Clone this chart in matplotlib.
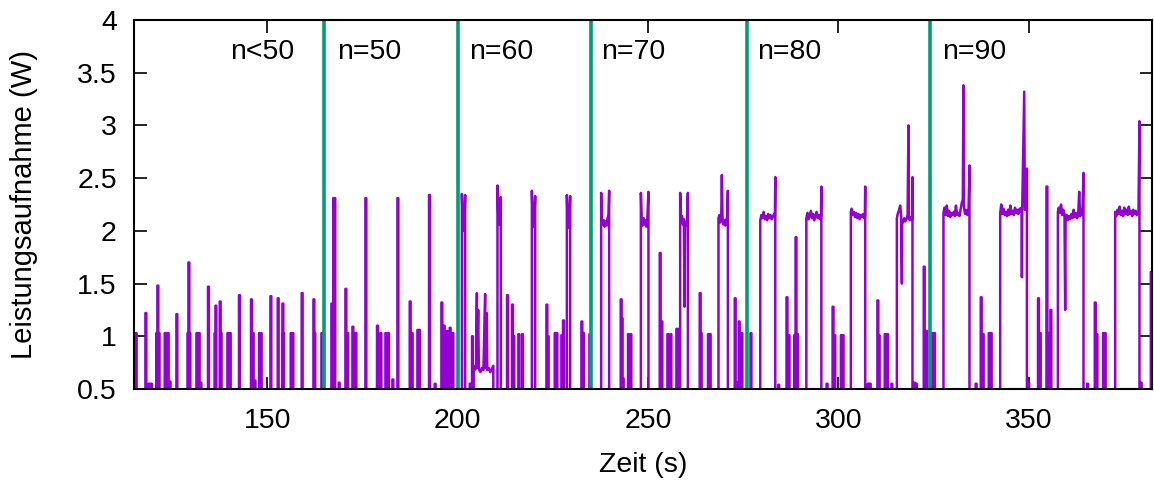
import matplotlib
matplotlib.use("Agg")
import matplotlib.pyplot as plt
from matplotlib.ticker import FuncFormatter

plt.rcParams['font.family'] = ['Liberation Sans', 'DejaVu Sans']

# Grundlinie (liegt knapp unter dem sichtbaren Bereich)
grundlinie = 0.47

# schmale Spitzen: Zeitpunkt (s) und Spitzenwert (W)
spitzen_t = [115.59, 118.14, 121.0, 121.29, 121.6, 123.21, 124.0, 126.28, 129.2, 129.44, 129.7,
             131.54, 132.14, 134.58, 136.3, 136.53, 137.66, 137.9, 139.68, 140.29, 142.72,
             145.88, 146.32, 147.98, 148.42, 150.97, 152.89, 154.12, 154.3, 156.30, 156.75,
             159.19, 162.27, 162.5, 164.37, 164.79,
             166.99, 167.47, 167.75, 170.67, 171.14, 172.51, 173.30, 175.92, 178.97, 179.86,
             181.18, 181.86, 184.33, 187.56, 188.08, 189.58, 190.0, 192.63, 195.88, 196.49,
             197.28, 198.06, 198.77,
             203.92, 213.12, 214.43, 214.77, 216.09, 217.06, 223.46, 223.80, 225.64, 226.09,
             227.40, 227.82, 232.65, 233.07, 234.75,
             242.97, 243.23, 244.89, 245.52, 253.22, 253.66, 255.24, 256.03, 257.60, 258.21,
             263.72, 263.98, 265.9, 266.35, 272.92, 273.97, 274.68,
             277.06, 286.52, 287.05, 288.55, 288.89, 289.28, 298.62, 299.07, 300.80, 301.25,
             310.39, 310.73, 312.31, 312.92, 322.56, 322.95, 323.26,
             324.73, 325.26, 337.53, 338.05, 339.63, 340.15, 352.58, 353.03, 354.79, 355.21,
             355.83, 367.48, 367.93, 369.65, 370.09, 382.2]
spitzen_p = [1.03, 1.22, 1.03, 1.48, 1.03, 1.03, 1.03, 1.21, 1.03, 1.70, 1.03,
             1.03, 1.03, 1.47, 1.03, 1.29, 1.33, 1.03, 1.03, 1.03, 1.39,
             1.35, 1.03, 1.03, 1.03, 1.38, 1.36, 1.31, 1.03, 1.03, 1.03,
             1.41, 1.35, 1.03, 1.03, 1.03,
             1.31, 2.31, 2.31, 1.45, 1.03, 1.09, 1.03, 2.31, 1.10, 1.03,
             1.03, 1.03, 2.31, 1.33, 1.03, 1.06, 1.06, 2.34, 1.32, 1.10,
             1.05, 1.08, 1.03,
             1.00, 1.39, 1.30, 1.00, 1.02, 1.02, 1.30, 1.00, 1.03, 1.03,
             1.01, 1.15, 1.14, 1.03, 1.02,
             1.35, 1.17, 1.02, 1.02, 1.79, 1.14, 1.02, 1.02, 1.07, 1.07,
             1.41, 1.03, 1.02, 1.02, 1.36, 1.14, 1.03,
             1.03, 1.37, 1.01, 1.01, 1.94, 1.02, 1.28, 1.01, 1.01, 1.01,
             1.34, 1.01, 1.02, 1.02, 1.66, 1.05, 1.05,
             1.03, 1.03, 1.37, 1.02, 1.03, 1.03, 1.36, 1.03, 2.42, 1.03,
             1.25, 1.32, 1.02, 1.03, 1.03, 1.61]

# kleine Ausschläge knapp über 0.5 W
klein_t = [119.0, 119.6, 124.5, 132.6, 146.8, 168.91, 183.01, 194.12, 203.32, 243.5, 273.36,
           284.34, 297.05, 307.85, 308.38, 314.07, 320.0, 320.5, 336.2, 350.0, 365.5, 379.55]
klein_p = [0.55, 0.55, 0.57, 0.56, 0.58, 0.56, 0.59, 0.55, 0.55, 0.6, 0.56,
           0.54, 0.55, 0.55, 0.55, 0.55, 0.56, 0.55, 0.55, 0.56, 0.55, 0.56]

# längere Abschnitte: Zeitpunkte und Werte
plateau_t = [
    [201.14, 201.35, 201.56, 201.8, 202.0],
    [204.2, 204.5, 204.9, 205.08, 205.1, 205.42, 205.6, 206.0, 206.4, 206.8, 207.25, 207.3,
     207.7, 207.8, 208.2, 208.6, 209.0, 209.4],
    [210.49, 210.7, 210.91, 211.15, 211.36],
    [219.52, 219.73, 219.94, 220.15, 220.39],
    [228.71, 228.92, 229.13, 229.35, 229.58],
    [237.72, 237.9, 238.15, 238.4, 238.65, 238.9, 239.15, 239.4, 239.65, 239.82],
    [248.15, 248.35, 248.6, 248.85, 249.1, 249.35, 249.6, 249.85, 250.14],
    [258.47, 258.7, 258.95, 259.2, 259.45, 259.6, 259.75, 260.0, 260.25, 260.49],
    [268.53, 268.75, 269.0, 269.25, 269.42, 269.6, 269.85, 270.1, 270.35, 270.6, 270.85, 271.0],
    [279.51, 279.8, 280.1, 280.4, 280.7, 281.0, 281.3, 281.6, 281.9, 282.2, 282.5, 282.8,
     283.1, 283.35, 283.45],
    [291.61, 291.9, 292.2, 292.5, 292.8, 293.1, 293.4, 293.7, 294.0, 294.3, 294.6, 294.9,
     295.2, 295.45, 295.55],
    [303.3, 303.5, 303.8, 304.1, 304.4, 304.7, 305.0, 305.3, 305.6, 305.9, 306.2, 306.5,
     306.8, 307.0, 307.07],
    [315.38, 315.6, 315.9, 316.1, 316.25, 316.5, 316.7, 316.75, 317.0, 317.3, 317.6, 317.9,
     318.2, 318.35, 318.43, 318.55, 318.8, 319.1, 319.4, 319.48],
    [327.62, 327.9, 328.2, 328.5, 328.8, 329.1, 329.4, 329.7, 330.0, 330.3, 330.6, 330.9,
     331.2, 331.5, 331.8, 332.1, 332.4, 332.7, 332.88, 333.0, 333.3, 333.6, 333.9, 334.19, 334.45],
    [342.52, 342.8, 343.1, 343.4, 343.7, 344.0, 344.3, 344.6, 344.9, 345.2, 345.5, 345.8,
     346.1, 346.4, 346.7, 347.0, 347.3, 347.6, 347.9, 348.15, 348.22, 348.3, 348.6, 348.83,
     349.0, 349.3, 349.54],
    [357.67, 357.9, 358.2, 358.5, 358.8, 359.1, 359.4, 359.59, 359.7, 360.0, 360.3, 360.6,
     360.9, 361.2, 361.5, 361.8, 362.1, 362.4, 362.7, 363.0, 363.27, 363.5, 363.8, 364.1, 364.4],
    [372.72, 373.0, 373.3, 373.6, 373.9, 374.2, 374.5, 374.8, 375.1, 375.4, 375.7, 376.0,
     376.3, 376.6, 376.9, 377.2, 377.5, 377.8, 378.1, 378.4, 378.84, 379.1],
]
plateau_p = [
    [2.35, 2.1, 2.0, 2.08, 2.34],
    [0.72, 0.68, 0.7, 1.41, 0.7, 1.25, 0.69, 0.66, 0.7, 0.68, 1.40, 0.7,
     1.22, 0.68, 0.7, 0.66, 0.69, 0.72],
    [2.43, 2.15, 2.06, 2.12, 2.32],
    [2.38, 2.12, 2.04, 2.1, 2.33],
    [2.34, 2.1, 2.03, 2.1, 2.33],
    [2.36, 2.12, 2.06, 2.1, 2.04, 2.09, 2.05, 2.12, 2.15, 2.38],
    [2.36, 2.1, 2.05, 2.12, 2.06, 2.1, 2.04, 2.12, 2.37],
    [2.36, 2.1, 2.14, 2.06, 2.11, 1.28, 2.08, 2.05, 2.1, 2.36],
    [2.12, 2.15, 2.08, 2.12, 2.53, 2.1, 2.06, 2.1, 2.05, 2.1, 2.14, 2.38],
    [2.10, 2.15, 2.12, 2.18, 2.11, 2.14, 2.10, 2.16, 2.12, 2.15, 2.11, 2.13,
     2.16, 2.14, 2.51],
    [2.12, 2.17, 2.11, 2.15, 2.19, 2.12, 2.16, 2.10, 2.14, 2.18, 2.12, 2.15,
     2.11, 2.14, 2.42],
    [2.18, 2.21, 2.15, 2.18, 2.13, 2.17, 2.12, 2.16, 2.11, 2.15, 2.13, 2.16,
     2.12, 2.14, 2.42],
    [2.12, 2.16, 2.19, 2.22, 2.24, 2.15, 1.50, 2.10, 2.08, 2.12, 2.09, 2.11,
     2.15, 2.75, 3.0, 2.12, 2.10, 2.13, 2.11, 2.51],
    [2.17, 2.22, 2.15, 2.24, 2.14, 2.19, 2.13, 2.17, 2.15, 2.18, 2.14, 2.24,
     2.15, 2.17, 2.14, 2.2, 2.26, 2.3, 3.38, 2.22, 2.16, 2.20, 2.15, 2.18, 2.62],
    [2.17, 2.25, 2.16, 2.21, 2.15, 2.18, 2.14, 2.2, 2.15, 2.24, 2.16, 2.19,
     2.15, 2.22, 2.17, 2.2, 2.16, 2.21, 2.18, 2.22, 1.56, 2.2, 2.85, 3.32,
     2.2, 2.2, 2.59],
    [2.18, 2.22, 2.17, 2.25, 2.15, 2.2, 2.16, 1.25, 2.12, 2.15, 2.1, 2.14,
     2.11, 2.16, 2.12, 2.2, 2.13, 2.17, 2.12, 2.15, 2.37, 2.14, 2.2, 2.15, 2.55],
    [2.18, 2.14, 2.2, 2.16, 2.23, 2.15, 2.19, 2.14, 2.22, 2.16, 2.2, 2.15,
     2.23, 2.16, 2.19, 2.14, 2.2, 2.16, 2.19, 2.15, 2.18, 3.04],
]

# Trennlinien zwischen den Messabschnitten und Beschriftungen
trenn_t = [165, 200, 235, 276, 324]
abschnitt_text = ['n<50', 'n=50', 'n=60', 'n=70', 'n=80', 'n=90']
abschnitt_t = [140.3, 168.3, 202.9, 237.8, 278.8, 327.3]


def baue_kurve():
    stuecke = []
    halb = 0.12
    for t, p in zip(spitzen_t, spitzen_p):
        stuecke.append(([t - halb, t - halb, t + halb, t + halb],
                        [grundlinie, p, p, grundlinie]))
    for t, p in zip(klein_t, klein_p):
        stuecke.append(([t - halb, t - halb, t + halb, t + halb],
                        [grundlinie, p, p, grundlinie]))
    for ts, ps in zip(plateau_t, plateau_p):
        stuecke.append(([ts[0]] + ts + [ts[-1]], [grundlinie] + ps + [grundlinie]))
    stuecke.sort(key=lambda s: s[0][0])
    x, y = [], []
    for xs, ys in stuecke:
        x += xs
        y += ys
    return x, y


zeit, leistung = baue_kurve()

fig = plt.figure(figsize=(11.54, 4.84), dpi=100)
ax = fig.add_axes([0.1157, 0.1963, 0.8826, 0.7624])

ax.plot(zeit, leistung, color='#9400D3', lw=1.8, zorder=2)
for t in trenn_t:
    ax.axvline(t, color='#009E73', lw=2.6, zorder=3)
for t, txt in zip(abschnitt_t, abschnitt_text):
    ax.text(t, 3.70, txt, fontsize=20.5, ha='left', va='center', zorder=4)

ax.set_xlim(114.9, 382.4)
ax.set_ylim(0.5, 4)
ax.set_xticks([150, 200, 250, 300, 350])
ax.set_yticks([0.5, 1, 1.5, 2, 2.5, 3, 3.5, 4])
ax.yaxis.set_major_formatter(FuncFormatter(lambda v, pos: f"{v:g}"))
ax.tick_params(direction='in', length=9, width=1.2, top=True, right=True,
               labelsize=20.5)
ax.tick_params(axis='y', pad=12)
ax.tick_params(axis='x', pad=14)
for s in ax.spines.values():
    s.set_linewidth(1.5)
    s.set_zorder(5)

ax.set_xlabel('Zeit (s)', fontsize=20.5, labelpad=13)
ax.set_ylabel('Leistungsaufnahme (W)', fontsize=21, labelpad=28)

fig.savefig('out.png', dpi=100)
